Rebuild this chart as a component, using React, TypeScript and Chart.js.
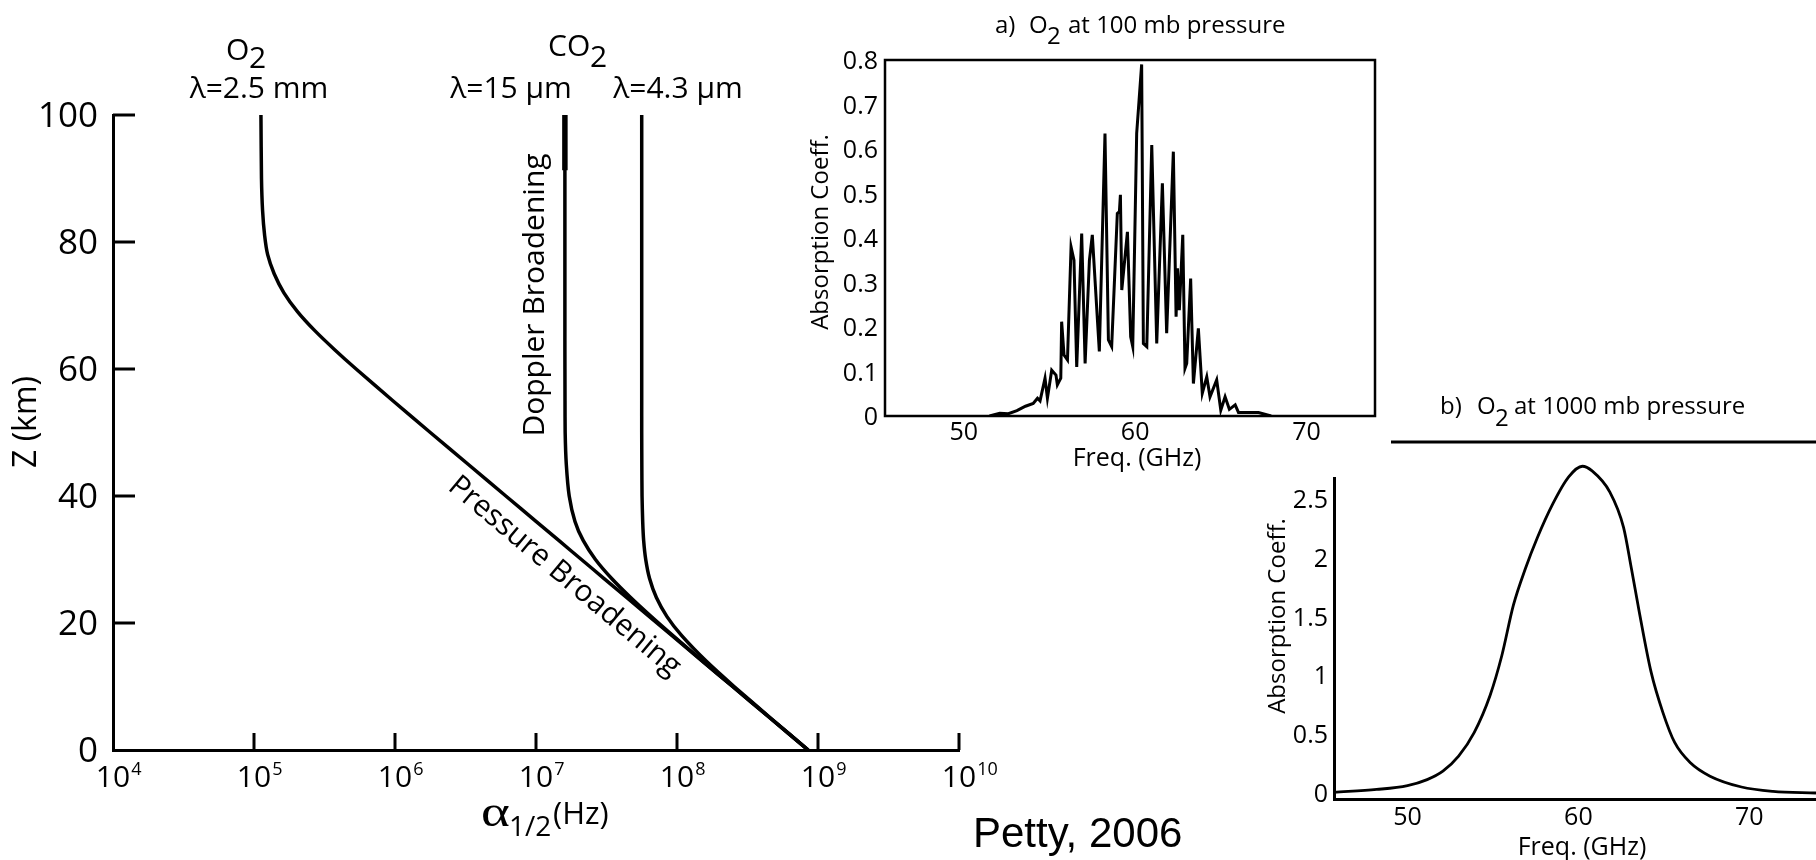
import { useEffect, useRef } from "react";
import { Chart, registerables } from "chart.js";

Chart.register(...registerables);

// ---------- Main panel: half-width vs altitude ----------
const altitudeKm = [0, 5, 10, 14, 18, 21, 24, 27, 30, 33, 36, 40, 45, 50, 55, 60, 63, 66, 69, 72, 75, 78, 81, 85, 90, 100];
const o2HalfWidthHz = [8.51e8, 4.59e8, 2.48e8, 1.51e8, 9.23e7, 6.37e7, 4.41e7, 3.04e7, 2.1e7, 1.45e7, 1.0e7, 6.11e6, 3.3e6, 1.78e6, 9.66e5, 5.3e5, 3.75e5, 2.71e5, 2.04e5, 1.63e5, 1.39e5, 1.25e5, 1.19e5, 1.15e5, 1.13e5, 1.12e5];
const co2_15umHalfWidthHz = [8.51e8, 4.6e8, 2.48e8, 1.52e8, 9.36e7, 6.57e7, 4.69e7, 3.44e7, 2.64e7, 2.16e7, 1.89e7, 1.72e7, 1.64e7, 1.61e7, 1.606e7, 1.604e7, 1.603e7, 1.603e7, 1.603e7, 1.603e7, 1.603e7, 1.603e7, 1.603e7, 1.603e7, 1.603e7, 1.603e7];
const co2_43umHalfWidthHz = [8.53e8, 4.63e8, 2.54e8, 1.61e8, 1.08e8, 8.49e7, 7.14e7, 6.39e7, 6.0e7, 5.8e7, 5.71e7, 5.65e7, 5.63e7, 5.62e7, 5.62e7, 5.62e7, 5.62e7, 5.62e7, 5.62e7, 5.62e7, 5.62e7, 5.62e7, 5.62e7, 5.62e7, 5.62e7, 5.62e7];
const co2_15umTopKm = [91.3, 100];
const co2_15umTopHz = [1.603e7, 1.603e7];
const zTicks = [0, 20, 40, 60, 80, 100];
const alphaDecades = [4, 5, 6, 7, 8, 9, 10];

// ---------- Inset a: O2 at 100 mb ----------
const freqA = [51.5, 52.1, 52.6, 53.1, 53.35, 53.6, 54.05, 54.3, 54.45, 54.74, 54.88, 55.13, 55.38, 55.46, 55.66, 55.71, 55.85, 56.05, 56.26, 56.43, 56.59, 56.88, 57.08, 57.33, 57.5, 57.91, 58.24, 58.44, 58.63, 58.96, 59.08, 59.14, 59.22, 59.55, 59.74, 59.86, 60.09, 60.23, 60.38, 60.48, 60.68, 60.97, 61.26, 61.59, 61.84, 62.23, 62.39, 62.47, 62.58, 62.78, 62.91, 63.01, 63.24, 63.4, 63.69, 63.92, 64.18, 64.37, 64.76, 65.0, 65.25, 65.5, 65.84, 66.03, 67.2, 67.94];
const absA = [0, 0.006, 0.005, 0.012, 0.017, 0.022, 0.028, 0.04, 0.034, 0.085, 0.04, 0.103, 0.092, 0.07, 0.085, 0.212, 0.137, 0.126, 0.38, 0.35, 0.11, 0.41, 0.118, 0.35, 0.407, 0.145, 0.635, 0.171, 0.156, 0.455, 0.459, 0.497, 0.283, 0.414, 0.178, 0.156, 0.635, 0.71, 0.79, 0.163, 0.156, 0.609, 0.163, 0.523, 0.186, 0.594, 0.223, 0.332, 0.238, 0.407, 0.107, 0.118, 0.309, 0.073, 0.197, 0.051, 0.088, 0.043, 0.081, 0.013, 0.043, 0.015, 0.025, 0.008, 0.008, 0];
const ticksAY = [0, 0.1, 0.2, 0.3, 0.4, 0.5, 0.6, 0.7, 0.8];
const ticksAX = [50, 60, 70];

// ---------- Inset b: O2 at 1000 mb ----------
const freqB = [45.7, 48.2, 50.0, 51.15, 52.07, 52.99, 53.9, 54.83, 55.52, 56.2, 56.9, 57.59, 58.5, 59.43, 60.23, 60.8, 61.84, 62.64, 63.1, 63.56, 64.25, 64.94, 65.63, 66.55, 67.7, 69.54, 71.38, 73.9];
const absB = [0.006, 0.03, 0.063, 0.114, 0.186, 0.314, 0.514, 0.83, 1.17, 1.6, 1.91, 2.17, 2.46, 2.69, 2.78, 2.74, 2.56, 2.26, 1.91, 1.54, 1.03, 0.686, 0.43, 0.257, 0.143, 0.051, 0.014, 0.0];
const ticksBY = [0, 0.5, 1, 1.5, 2, 2.5];
const ticksBX = [50, 60, 70];

const W = 1816;
const H = 860;
const FONT = '"Open Sans", "DejaVu Sans", sans-serif';
const SERIF = '"Liberation Serif", "DejaVu Serif", serif';

function pts(xs: number[], ys: number[]) {
  return xs.map((x, i) => ({ x, y: ys[i] }));
}

function txt(ctx: any, s: string, x: number, y: number, size: number, align = "left", family = FONT) {
  ctx.font = `${size}px ${family}`;
  ctx.textAlign = align;
  ctx.textBaseline = "alphabetic";
  ctx.fillStyle = "#000";
  ctx.fillText(s, x, y);
}

function rtxt(ctx: any, s: string, x: number, y: number, size: number, angle: number, align = "center") {
  ctx.save();
  ctx.translate(x, y);
  ctx.rotate(angle);
  txt(ctx, s, 0, 0, size, align);
  ctx.restore();
}

function seg(ctx: any, x1: number, y1: number, x2: number, y2: number, w: number) {
  ctx.beginPath();
  ctx.lineWidth = w;
  ctx.strokeStyle = "#000";
  ctx.moveTo(x1, y1);
  ctx.lineTo(x2, y2);
  ctx.stroke();
}

function fmt(v: number) {
  return String(Math.round(v * 10) / 10);
}

function hiddenScale(axis: "x" | "y", extra: any, showBorder: boolean) {
  return {
    ...extra,
    ticks: { display: false },
    grid: { display: false },
    border: { display: showBorder, color: "#000", width: 3 },
    afterFit: (s: any) => {
      if (axis === "x") s.height = 0;
      else s.width = 0;
    },
  };
}

const mainDecor = {
  id: "mainDecor",
  afterDraw(chart: any) {
    const { ctx, chartArea } = chart;
    const xs = chart.scales.x;
    const ys = chart.scales.y;
    ctx.save();
    for (const v of zTicks) {
      const py = ys.getPixelForValue(v);
      if (v > 0) seg(ctx, chartArea.left, py, chartArea.left + 22, py, 3);
      txt(ctx, String(v), 98, py + 12, 35, "right");
    }
    for (const k of alphaDecades) {
      const px = xs.getPixelForValue(Math.pow(10, k));
      if (k > 4) seg(ctx, px, chartArea.bottom, px, chartArea.bottom - 17, 3);
      ctx.font = `30px ${FONT}`;
      const w = ctx.measureText("10").width;
      txt(ctx, "10", px - w / 2, 787, 30);
      txt(ctx, String(k), px + w / 2 + 1, 775, 18);
    }
    // axis titles
    rtxt(ctx, "Z (km)", 36, 422, 32, -Math.PI / 2);
    ctx.save();
    ctx.translate(481, 826);
    ctx.scale(1.25, 1);
    txt(ctx, "α", 0, 0, 44, "left", SERIF);
    ctx.restore();
    txt(ctx, "1/2", 509, 836, 28);
    txt(ctx, "(Hz)", 553, 824, 31);
    // gas labels
    txt(ctx, "O", 226, 60, 30);
    txt(ctx, "2", 249, 68, 30);
    txt(ctx, "λ=2.5 mm", 259, 98, 30, "center");
    txt(ctx, "CO", 548, 56, 30);
    txt(ctx, "2", 590, 67, 30);
    txt(ctx, "λ=15 µm", 511, 98, 30, "center");
    txt(ctx, "λ=4.3 µm", 678, 98, 30, "center");
    // regime labels
    rtxt(ctx, "Doppler Broadening", 544, 295, 30, -Math.PI / 2);
    rtxt(ctx, "Pressure Broadening", 559, 583, 30, (40 * Math.PI) / 180);
    // credit
    txt(ctx, "Petty, 2006", 973, 847, 42, "left", '"Liberation Sans", Arial, sans-serif');
    ctx.restore();
  },
};

const insetADecor = {
  id: "insetADecor",
  afterDraw(chart: any) {
    const { ctx, chartArea } = chart;
    const xs = chart.scales.x;
    const ys = chart.scales.y;
    ctx.save();
    ctx.lineWidth = 2.5;
    ctx.strokeStyle = "#000";
    ctx.strokeRect(chartArea.left, chartArea.top, chartArea.right - chartArea.left, chartArea.bottom - chartArea.top);
    for (const v of ticksAY) {
      const py = ys.getPixelForValue(v);
      txt(ctx, fmt(v), 878, py + 9, 25, "right");
    }
    for (const v of ticksAX) {
      const px = xs.getPixelForValue(v);
      txt(ctx, String(v), px, 440, 25, "center");
    }
    txt(ctx, "Freq. (GHz)", 1137, 466, 25, "center");
    rtxt(ctx, "Absorption Coeff.", 828, 232, 24, -Math.PI / 2);
    txt(ctx, "a)", 995, 33, 24);
    txt(ctx, "O", 1029, 33, 24);
    txt(ctx, "2", 1047, 44, 24);
    txt(ctx, "at 100 mb pressure", 1068, 33, 24);
    ctx.restore();
  },
};

const insetBDecor = {
  id: "insetBDecor",
  afterDraw(chart: any) {
    const { ctx } = chart;
    const xs = chart.scales.x;
    const ys = chart.scales.y;
    ctx.save();
    for (const v of ticksBY) {
      const py = ys.getPixelForValue(v);
      txt(ctx, fmt(v), 1328, py + 9, 25, "right");
    }
    for (const v of ticksBX) {
      const px = xs.getPixelForValue(v);
      txt(ctx, String(v), px, 825, 25, "center");
    }
    txt(ctx, "Freq. (GHz)", 1582, 855, 25, "center");
    rtxt(ctx, "Absorption Coeff.", 1285, 616, 24, -Math.PI / 2);
    txt(ctx, "b)", 1440, 414, 24);
    txt(ctx, "O", 1477, 414, 24);
    txt(ctx, "2", 1495, 426, 24);
    txt(ctx, "at 1000 mb pressure", 1514, 414, 24);
    seg(ctx, 1391, 442, 1816, 442, 3);
    ctx.restore();
  },
};

function mainConfig(): any {
  const line = (data: any[], width: number) => ({
    data,
    showLine: true,
    borderColor: "#000",
    backgroundColor: "#000",
    borderWidth: width,
    pointRadius: 0,
    tension: 0.2,
    fill: false,
  });
  return {
    type: "scatter",
    data: {
      datasets: [
        line(pts(o2HalfWidthHz, altitudeKm), 3.5),
        line(pts(co2_15umHalfWidthHz, altitudeKm), 3.5),
        line(pts(co2_43umHalfWidthHz, altitudeKm), 3.5),
        line(pts(co2_15umTopHz, co2_15umTopKm), 5.5),
      ],
    },
    options: {
      responsive: false,
      animation: false,
      events: [],
      layout: { padding: { left: 113, top: 115, right: W - 959, bottom: H - 750 } },
      plugins: { legend: { display: false }, tooltip: { enabled: false } },
      scales: {
        x: hiddenScale(
          "x",
          {
            type: "logarithmic",
            min: 1e4,
            max: 1e10,
            afterBuildTicks: (s: any) => {
              s.ticks = alphaDecades.map((k) => ({ value: Math.pow(10, k) }));
            },
          },
          true
        ),
        y: hiddenScale(
          "y",
          {
            type: "linear",
            min: 0,
            max: 100,
            afterBuildTicks: (s: any) => {
              s.ticks = zTicks.map((v) => ({ value: v }));
            },
          },
          true
        ),
      },
    },
    plugins: [mainDecor],
  };
}

function insetAConfig(): any {
  return {
    type: "scatter",
    data: {
      datasets: [
        {
          data: pts(freqA, absA),
          showLine: true,
          borderColor: "#000",
          borderWidth: 3,
          borderJoinStyle: "miter",
          pointRadius: 0,
          tension: 0,
        },
      ],
    },
    options: {
      responsive: false,
      animation: false,
      events: [],
      layout: { padding: { left: 885, top: 60, right: W - 1375, bottom: H - 416 } },
      plugins: { legend: { display: false }, tooltip: { enabled: false } },
      scales: {
        x: hiddenScale("x", { type: "linear", min: 45.4, max: 74 }, false),
        y: hiddenScale("y", { type: "linear", min: 0, max: 0.8 }, false),
      },
    },
    plugins: [insetADecor],
  };
}

function insetBConfig(): any {
  return {
    type: "scatter",
    data: {
      datasets: [
        {
          data: pts(freqB, absB),
          showLine: true,
          borderColor: "#000",
          borderWidth: 2.8,
          pointRadius: 0,
          cubicInterpolationMode: "monotone",
          clip: false,
        },
      ],
    },
    options: {
      responsive: false,
      animation: false,
      events: [],
      layout: { padding: { left: 1334, top: 478, right: 0, bottom: H - 799 } },
      plugins: { legend: { display: false }, tooltip: { enabled: false } },
      scales: {
        x: hiddenScale("x", { type: "linear", min: 45.7, max: 73.9 }, true),
        y: hiddenScale("y", { type: "linear", min: -0.051, max: 2.68 }, true),
      },
    },
    plugins: [insetBDecor],
  };
}

export default function App() {
  const r1 = useRef<HTMLCanvasElement>(null);
  const r2 = useRef<HTMLCanvasElement>(null);
  const r3 = useRef<HTMLCanvasElement>(null);

  useEffect(() => {
    document.body.style.margin = "0";
    const charts = [
      new Chart(r1.current as HTMLCanvasElement, mainConfig()),
      new Chart(r2.current as HTMLCanvasElement, insetAConfig()),
      new Chart(r3.current as HTMLCanvasElement, insetBConfig()),
    ];
    return () => charts.forEach((c) => c.destroy());
  }, []);

  const cs: any = { position: "absolute", left: 0, top: 0, width: W, height: H };
  return (
    <div style={{ position: "absolute", left: 0, top: 0, width: W, height: H, background: "#fff" }}>
      <canvas ref={r1} width={W} height={H} style={cs} />
      <canvas ref={r2} width={W} height={H} style={cs} />
      <canvas ref={r3} width={W} height={H} style={cs} />
    </div>
  );
}
